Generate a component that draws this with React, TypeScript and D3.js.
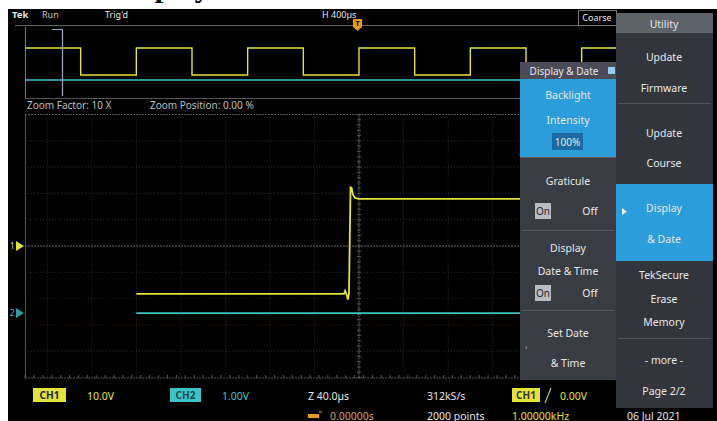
import React from "react";
import * as d3 from "d3";

// ---- Overview (full record), CH1 square wave: time in ms, volts
const overviewTimes = [-3, -2.5, -2.5, -2, -2, -1.5, -1.5, -1, -1, -0.5, -0.5, 0, 0, 0.5, 0.5, 1, 1, 1.5, 1.5, 2, 2, 2.5, 2.5, 3];
const overviewVolts = [18, 18, -18, -18, 18, 18, -18, -18, 18, 18, -18, -18, 18, 18, -18, -18, 18, 18, -18, -18, 18, 18, -18, -18];
const overviewCh2Times = [-3, 3];
const overviewCh2Volts = [0, 0];

// ---- Zoomed window, CH1: time in µs, volts
const ch1Times = [-200, -13.5, -12.5, -11, -10, -9, -7.6, -6.6, -5.5, -3.5, 0, 300];
const ch1Volts = [-18.2, -18.2, -17.0, -18.6, -20.4, -18.0, 22.3, 22.0, 19.6, 18.3, 17.9, 17.9];
// ---- Zoomed window, CH2
const ch2Times = [-200, 300];
const ch2Volts = [0, 0];

// ---- Labels
const topLabels = ["Tek", "Run", "Trig'd", "H 400µs", "Coarse"];
const zoomLabels = ["Zoom Factor: 10 X", "Zoom Position: 0.00 %"];
const statusRow1 = ["CH1", "10.0V", "CH2", "1.00V", "Z 40.0µs", "312kS/s", "CH1", "0.00V"];
const statusRow2 = ["0.00000s", "2000 points", "1.00000kHz", "06 Jul 2021"];
const ddTitle = "Display & Date";
const ddBacklight = ["Backlight", "Intensity", "100%"];
const ddGraticule = ["Graticule", "On", "Off"];
const ddDateTime = ["Display", "Date & Time", "On", "Off"];
const ddSetDate = ["Set Date", "& Time"];
const utilTitle = "Utility";
const utilItems = [["Update", "Firmware"], ["Update", "Course"], ["Display", "& Date"], ["TekSecure", "Erase", "Memory"], ["- more -", "Page 2/2"]];

const YEL = "#e3e33a";
const CYAN = "#3cc3c9";
const BLUE = "#2b9ddb";
const PANEL = "#393c42";
const FONT = "'Noto Sans', 'DejaVu Sans', sans-serif";

export default function App() {
  const ovX = d3.scaleLinear().domain([-3, 3]).range([25, 693]);
  const ovY1 = d3.scaleLinear().domain([-18, 18]).range([75, 48]);
  const ovY2 = d3.scaleLinear().domain([-18, 18]).range([87, 73]);
  const mX = d3.scaleLinear().domain([-300, 300]).range([25, 693]);
  const mY1 = d3.scaleLinear().domain([-50, 50]).range([377.5, 114.5]);
  const mY2 = d3.scaleLinear().domain([-2.45, 7.55]).range([377.5, 114.5]);

  const ovLine1 = d3.line<number>().x((d, i) => ovX(overviewTimes[i])).y((d) => ovY1(d));
  const ovLine2 = d3.line<number>().x((d, i) => ovX(overviewCh2Times[i])).y((d) => ovY2(d));
  const line1 = d3.line<number>().x((d, i) => mX(ch1Times[i])).y((d) => mY1(d));
  const line2 = d3.line<number>().x((d, i) => mX(ch2Times[i])).y((d) => mY2(d));

  const vGrid = d3.range(-280, 281, 40);
  const hGrid = d3.range(-40, 41, 10);
  const vTicks = d3.range(-300, 301, 8);
  const hTicks = d3.range(-50, 51, 2);

  const t = { fontFamily: FONT, fontSize: 9, fill: "#e6e6e6" } as const;
  const p = { fontFamily: FONT, fontSize: 10.5, fill: "#e8e8e8", textAnchor: "middle" } as const;
  const s = { fontFamily: FONT, fontSize: 10.5, fill: "#e6e6e6" } as const;
  const ddCx = 568;
  const uCx = 664;

  return (
    <svg width={717} height={421} style={{ position: "fixed", left: 0, top: 0 }}>
      <rect x={0} y={0} width={717} height={421} fill="#fff" />
      <text x={113} y={-3.5} fontFamily="'Liberation Serif', serif" fontWeight="bold" fontSize={30} fill="#000">Display</text>
      <rect x={8} y={9} width={709} height={412} fill="#000" />

      {/* top bar */}
      <text x={12} y={18} {...t} fontWeight="bold" fontSize={9.5}>{topLabels[0]}</text>
      <text x={42} y={18} {...t} fill="#c8c8c8">{topLabels[1]}</text>
      <text x={105} y={18} {...t}>{topLabels[2]}</text>
      <text x={322} y={18} {...t}>{topLabels[3]}</text>
      <rect x={578.5} y={10.5} width={38} height={15} fill="#000" stroke="#777" />
      <text x={597} y={21} {...t} textAnchor="middle">{topLabels[4]}</text>
      <line x1={15} x2={578} y1={25.5} y2={25.5} stroke="#666" />
      {/* trigger marker */}
      <rect x={353} y={19} width={9} height={8} fill="#e89a1c" />
      <text x={357.5} y={26} fontFamily={FONT} fontSize={7} fontWeight="bold" fill="#000" textAnchor="middle">T</text>
      <path d="M353,27 L362,27 L357.5,31 Z" fill="#e89a1c" />

      {/* overview */}
      <line x1={25.5} x2={25.5} y1={27} y2={98} stroke="#777" />
      <line x1={25} x2={520} y1={98.5} y2={98.5} stroke="#555" />
      <path d={ovLine2(overviewCh2Volts) || ""} fill="none" stroke={CYAN} strokeWidth={1.3} />
      <path d={ovLine1(overviewVolts) || ""} fill="none" stroke={YEL} strokeWidth={1.4} />
      <path d="M52,29.5 L62.5,29.5 L62.5,96" fill="none" stroke="#9fb0c8" strokeWidth={1.2} />
      <text x={27} y={109} {...t} fontSize={10} fill="#bdbdbd">{zoomLabels[0]}</text>
      <text x={150} y={109} {...t} fontSize={10} fill="#bdbdbd">{zoomLabels[1]}</text>

      {/* graticule */}
      {vGrid.map((v) => (
        <line key={"v" + v} x1={mX(v)} x2={mX(v)} y1={114.5} y2={377.5} stroke={v === 0 ? "#6a6a6a" : "#2e2e2e"} strokeDasharray={v === 0 ? "2,1" : "1,2"} />
      ))}
      {hGrid.map((h) => (
        <line key={"h" + h} x1={25} x2={693} y1={mY1(h)} y2={mY1(h)} stroke={h === 0 ? "#6a6a6a" : h === -20 || h === -30 ? "#3a1616" : "#2e2e2e"} strokeDasharray={h === 0 ? "2,1" : "1,2"} />
      ))}
      <line x1={25} x2={693} y1={114.5} y2={114.5} stroke="#555" strokeDasharray="2,1" />
      <line x1={25} x2={693} y1={378} y2={378} stroke="#555" strokeDasharray="2,1" />
      <line x1={25.5} x2={25.5} y1={114.5} y2={378} stroke="#555" />
      {vTicks.map((v) => (
        <line key={"vt" + v} x1={mX(v)} x2={mX(v)} y1={375} y2={378} stroke="#555" />
      ))}
      {hTicks.map((h) => (
        <line key={"ht" + h} x1={357} x2={361} y1={mY1(h)} y2={mY1(h)} stroke="#555" />
      ))}

      {/* traces */}
      <path d={line2(ch2Volts) || ""} fill="none" stroke={CYAN} strokeWidth={1.8} />
      <path d={line1(ch1Volts) || ""} fill="none" stroke={YEL} strokeWidth={1.8} />

      {/* ground markers */}
      <path d={`M16,${mY1(0) - 5} L24,${mY1(0)} L16,${mY1(0) + 5} Z`} fill={YEL} />
      <text x={10} y={mY1(0) + 3} fontFamily={FONT} fontSize={8} fill={YEL}>1</text>
      <path d={`M16,${mY2(0) - 5} L24,${mY2(0)} L16,${mY2(0) + 5} Z`} fill={CYAN} opacity={0.8} />
      <text x={10} y={mY2(0) + 3} fontFamily={FONT} fontSize={8} fill={CYAN}>2</text>

      {/* status bar */}
      <rect x={33} y={388} width={33} height={14} fill={YEL} />
      <text x={49.5} y={399} fontFamily={FONT} fontSize={10} fontWeight="bold" fill="#222" textAnchor="middle">{statusRow1[0]}</text>
      <text x={87} y={399.5} {...s} fill={YEL}>{statusRow1[1]}</text>
      <rect x={170} y={388} width={31} height={14} fill={CYAN} />
      <text x={185.5} y={399} fontFamily={FONT} fontSize={10} fontWeight="bold" fill="#1d4a4c" textAnchor="middle">{statusRow1[2]}</text>
      <text x={222} y={399.5} {...s} fill={CYAN}>{statusRow1[3]}</text>
      <text x={308} y={399.5} {...s}>{statusRow1[4]}</text>
      <text x={427} y={399.5} {...s}>{statusRow1[5]}</text>
      <rect x={512} y={388} width={28} height={14} fill={YEL} />
      <text x={526} y={399} fontFamily={FONT} fontSize={10} fontWeight="bold" fill="#333" textAnchor="middle">{statusRow1[6]}</text>
      <line x1={545} x2={551} y1={403} y2={388} stroke="#bdbd7a" strokeWidth={1.2} />
      <text x={560} y={399.5} {...s} fill={YEL}>{statusRow1[7]}</text>

      <rect x={308} y={414} width={11} height={4} fill="#e89a1c" />
      <line x1={319} x2={322} y1={412} y2={412} stroke="#e89a1c" />
      <text x={330} y={419.5} {...s} fill="#c9a062">{statusRow2[0]}</text>
      <text x={427} y={419.5} {...s}>{statusRow2[1]}</text>
      <text x={512} y={419.5} {...s} fill={YEL}>{statusRow2[2]}</text>
      <text x={627} y={419.5} {...s}>{statusRow2[3]}</text>

      {/* Display & Date panel */}
      <rect x={520} y={62} width={96} height={318} fill={PANEL} />
      <rect x={520} y={62} width={96} height={17} fill="#4a4b57" />
      <text x={564} y={74.5} {...p} fontSize={10}>{ddTitle}</text>
      <rect x={608} y={67} width={7} height={7} fill="#8fd0f0" />
      <rect x={520} y={79} width={96} height={78} fill={BLUE} />
      <text x={ddCx} y={98.5} {...p}>{ddBacklight[0]}</text>
      <text x={ddCx} y={123.5} {...p}>{ddBacklight[1]}</text>
      <rect x={552} y={133} width={31} height={17} fill="#1a6aa3" />
      <text x={567.5} y={145.5} {...p} fontSize={10}>{ddBacklight[2]}</text>
      <line x1={520} x2={616} y1={157.5} y2={157.5} stroke="#6b5a4a" />
      <text x={ddCx} y={184.5} {...p}>{ddGraticule[0]}</text>
      <rect x={535} y={203} width={16} height={16} fill="#b9bcc2" />
      <text x={543} y={215} {...p} fontSize={10} fill="#2a2a2a">{ddGraticule[1]}</text>
      <text x={590} y={215} {...p}>{ddGraticule[2]}</text>
      <line x1={522} x2={614} y1={230.5} y2={230.5} stroke="#55595f" />
      <text x={ddCx} y={251.5} {...p}>{ddDateTime[0]}</text>
      <text x={ddCx} y={274.5} {...p}>{ddDateTime[1]}</text>
      <rect x={535} y={285} width={16} height={16} fill="#b9bcc2" />
      <text x={543} y={297} {...p} fontSize={10} fill="#2a2a2a">{ddDateTime[2]}</text>
      <text x={590} y={297} {...p}>{ddDateTime[3]}</text>
      <line x1={522} x2={614} y1={310.5} y2={310.5} stroke="#55595f" />
      <text x={ddCx} y={336.5} {...p}>{ddSetDate[0]}</text>
      <text x={ddCx} y={366.5} {...p}>{ddSetDate[1]}</text>
      <text x={525} y={350} {...t} fontSize={8} fill="#9aa">›</text>

      {/* Utility panel */}
      <rect x={616} y={13} width={97} height={395} fill="#32363c" />
      <rect x={616} y={13} width={97} height={20} fill="#5e6269" />
      <text x={uCx} y={27.5} {...p}>{utilTitle}</text>
      <text x={uCx} y={60.5} {...p}>{utilItems[0][0]}</text>
      <text x={uCx} y={91.5} {...p}>{utilItems[0][1]}</text>
      <line x1={618} x2={711} y1={103.5} y2={103.5} stroke="#50545a" />
      <text x={uCx} y={136.5} {...p}>{utilItems[1][0]}</text>
      <text x={uCx} y={166.5} {...p}>{utilItems[1][1]}</text>
      <rect x={616} y={184} width={97} height={77} fill={BLUE} />
      <text x={uCx} y={211.5} {...p}>{utilItems[2][0]}</text>
      <text x={uCx} y={242.5} {...p}>{utilItems[2][1]}</text>
      <path d="M622,208 L627,211.5 L622,215 Z" fill="#eee" />
      <text x={uCx} y={278.5} {...p}>{utilItems[3][0]}</text>
      <text x={uCx} y={302.5} {...p}>{utilItems[3][1]}</text>
      <text x={uCx} y={325.5} {...p}>{utilItems[3][2]}</text>
      <line x1={618} x2={711} y1={338.5} y2={338.5} stroke="#50545a" />
      <text x={uCx} y={363.5} {...p}>{utilItems[4][0]}</text>
      <text x={uCx} y={394.5} {...p}>{utilItems[4][1]}</text>
    </svg>
  );
}
